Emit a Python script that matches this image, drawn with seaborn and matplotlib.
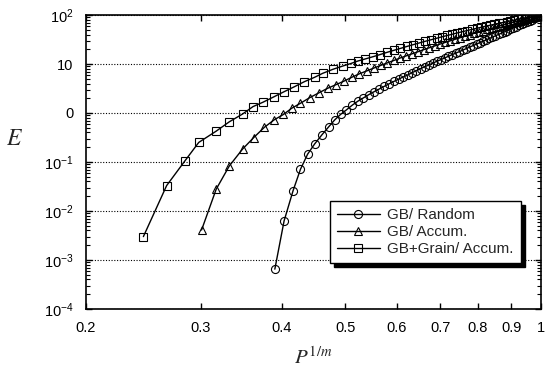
import pandas as pd
import matplotlib
matplotlib.use("Agg")
import matplotlib.pyplot as plt
import seaborn as sns
from matplotlib.ticker import FixedLocator, FixedFormatter, NullLocator, LogLocator, NullFormatter

# GB/ Random (circles)
x_random = [0.390, 0.403, 0.416, 0.427, 0.438, 0.449, 0.461, 0.472, 0.482, 0.492, 0.502, 0.513, 0.523,
            0.533, 0.544, 0.554, 0.564, 0.574, 0.584, 0.594, 0.604, 0.614, 0.624, 0.634, 0.643, 0.653,
            0.663, 0.672, 0.682, 0.692, 0.701, 0.711, 0.720, 0.730, 0.739, 0.749, 0.758, 0.768, 0.777,
            0.786, 0.796, 0.805, 0.814, 0.824, 0.833, 0.842, 0.851, 0.861, 0.870, 0.879, 0.888, 0.897,
            0.906, 0.916, 0.925, 0.934, 0.943, 0.952, 0.961, 0.970, 0.979, 0.988, 1.000]
e_random = [0.00065, 0.0063, 0.026, 0.071, 0.145, 0.234, 0.363, 0.525, 0.724, 0.933, 1.15, 1.45, 1.74,
            2.02, 2.38, 2.72, 3.08, 3.49, 3.93, 4.40, 4.90, 5.43, 5.98, 6.68, 7.29, 8.04,
            8.81, 9.55, 10.4, 11.4, 12.2, 13.3, 14.3, 15.5, 16.6, 17.9, 19.2, 20.7, 22.2,
            23.7, 25.5, 27.3, 29.1, 31.2, 33.3, 35.4, 37.7, 40.3, 42.8, 45.4, 48.2, 51.1,
            54.1, 57.7, 61.1, 64.6, 68.2, 72.1, 76.2, 80.4, 84.9, 89.5, 96.0]

# GB/ Accum. (triangles)
x_accum = [0.301, 0.317, 0.332, 0.348, 0.362, 0.376, 0.389, 0.402, 0.414, 0.427, 0.441, 0.456, 0.470,
           0.484, 0.498, 0.512, 0.526, 0.540, 0.553, 0.567, 0.580, 0.594, 0.607, 0.620, 0.634, 0.647,
           0.660, 0.673, 0.686, 0.699, 0.712, 0.725, 0.738, 0.751, 0.764, 0.777, 0.789, 0.802, 0.815,
           0.827, 0.840, 0.852, 0.865, 0.877, 0.890, 0.902, 0.914, 0.927, 0.939, 0.951, 0.963, 0.976,
           0.988, 1.000]
e_accum = [0.0041, 0.028, 0.083, 0.184, 0.316, 0.513, 0.724, 0.933, 1.25, 1.58, 2.05, 2.59, 3.19,
           3.78, 4.47, 5.36, 6.32, 7.24, 8.22, 9.35, 10.5, 11.8, 13.2, 14.6, 16.2, 17.8,
           19.6, 21.4, 23.3, 25.4, 27.5, 29.7, 32.0, 34.5, 37.0, 39.6, 42.2, 45.0, 48.0,
           50.7, 53.8, 56.8, 60.1, 63.2, 66.7, 69.9, 73.2, 76.9, 80.4, 84.0, 87.5, 91.5,
           95.0, 98.0]

# GB+Grain/ Accum. (squares)
x_grain = [0.245, 0.266, 0.284, 0.298, 0.317, 0.332, 0.348, 0.361, 0.374, 0.389, 0.403, 0.418, 0.433,
           0.449, 0.462, 0.479, 0.496, 0.511, 0.523, 0.536, 0.552, 0.566, 0.580, 0.594, 0.608, 0.622,
           0.636, 0.650, 0.664, 0.678, 0.692, 0.705, 0.718, 0.731, 0.744, 0.757, 0.770, 0.783, 0.796,
           0.809, 0.822, 0.835, 0.848, 0.861, 0.873, 0.885, 0.897, 0.909, 0.921, 0.933, 0.945, 0.957,
           0.968, 0.979, 0.990, 1.000]
e_grain = [0.0030, 0.033, 0.107, 0.251, 0.427, 0.661, 0.955, 1.35, 1.66, 2.15, 2.72, 3.44, 4.36,
           5.36, 6.46, 7.80, 9.10, 10.3, 11.5, 12.6, 14.1, 15.6, 17.3, 19.0, 20.8, 22.8,
           24.8, 26.9, 29.1, 31.3, 33.7, 36.0, 38.3, 40.6, 43.2, 45.6, 48.2, 50.8, 53.5,
           56.2, 59.0, 61.8, 64.6, 67.5, 70.2, 72.9, 75.7, 78.5, 81.3, 84.1, 86.9, 89.7,
           92.3, 94.9, 97.0, 99.0]

x_ticks = [0.2, 0.3, 0.4, 0.5, 0.6, 0.7, 0.8, 0.9, 1.0]
x_ticklabels = ["0.2", "0.3", "0.4", "0.5", "0.6", "0.7", "0.8", "0.9", "1"]
y_ticks = [1e-4, 1e-3, 1e-2, 1e-1, 1, 10, 100]
y_ticklabels = [r"$10^{-4}$", r"$10^{-3}$", r"$10^{-2}$", r"$10^{-1}$", "0", "10", r"$10^{2}$"]

sns.set_style("ticks")
plt.rcParams["font.family"] = ["Liberation Sans", "DejaVu Sans"]
plt.rcParams["mathtext.fontset"] = "custom"
plt.rcParams["mathtext.rm"] = "Liberation Sans"
plt.rcParams["mathtext.it"] = "Liberation Sans:italic"

fig = plt.figure(figsize=(5.46, 3.77), dpi=100)
ax = fig.add_axes([0.1575, 0.1804, 0.8335, 0.7798])

series = [
    (x_random, e_random, "o", 5.8, "GB/ Random"),
    (x_accum, e_accum, "^", 5.8, "GB/ Accum."),
    (x_grain, e_grain, "s", 5.5, "GB+Grain/ Accum."),
]
for xs, es, mk, ms, lab in series:
    df = pd.DataFrame({"P": xs, "E": es})
    sns.lineplot(data=df, x="P", y="E", ax=ax, color="black", lw=1.0, marker=mk,
                 markersize=ms, markerfacecolor="none", markeredgecolor="black",
                 markeredgewidth=0.8, sort=False, estimator=None, label=lab)

ax.set_xscale("log")
ax.set_yscale("log")
ax.set_xlim(0.2, 1.0)
ax.set_ylim(1e-4, 1e2)

ax.xaxis.set_major_locator(FixedLocator(x_ticks))
ax.xaxis.set_major_formatter(FixedFormatter(x_ticklabels))
ax.xaxis.set_minor_locator(NullLocator())
ax.yaxis.set_major_locator(FixedLocator(y_ticks))
ax.yaxis.set_major_formatter(FixedFormatter(y_ticklabels))
ax.yaxis.set_minor_locator(LogLocator(base=10, subs=[2, 3, 4, 5, 6, 7, 8, 9], numticks=20))
ax.yaxis.set_minor_formatter(NullFormatter())

ax.tick_params(axis="both", which="both", direction="in", top=True, right=True, colors="black")
ax.tick_params(which="major", length=4.5, width=1.0)
ax.tick_params(which="minor", length=3, width=0.8)
ax.tick_params(axis="x", pad=9, labelsize=10.5)
ax.tick_params(axis="y", pad=9, labelsize=10.5)

ax.yaxis.grid(True, which="major", linestyle=(0, (1, 1.5)), color="black", lw=0.8)
ax.xaxis.grid(False)
for sp in ax.spines.values():
    sp.set_linewidth(1.2)
    sp.set_color("black")

ax.set_xlabel(r"$P^{1/m}$", fontsize=15, math_fontfamily="stix", labelpad=8)
ax.set_ylabel(r"$E$", fontsize=17, math_fontfamily="stix", rotation=0)
ax.yaxis.set_label_coords(-0.156, 0.54)

leg = ax.legend(loc="lower right", bbox_to_anchor=(0.972, 0.13), frameon=True, fancybox=False,
                shadow={"ox": 3, "oy": -3, "facecolor": "black", "edgecolor": "black", "alpha": 1},
                edgecolor="black", framealpha=1, fontsize=11, handlelength=2.8,
                borderpad=0.45, labelspacing=0.2, handletextpad=0.5)
leg.get_frame().set_linewidth(1.0)

fig.savefig("out.png", dpi=100)
